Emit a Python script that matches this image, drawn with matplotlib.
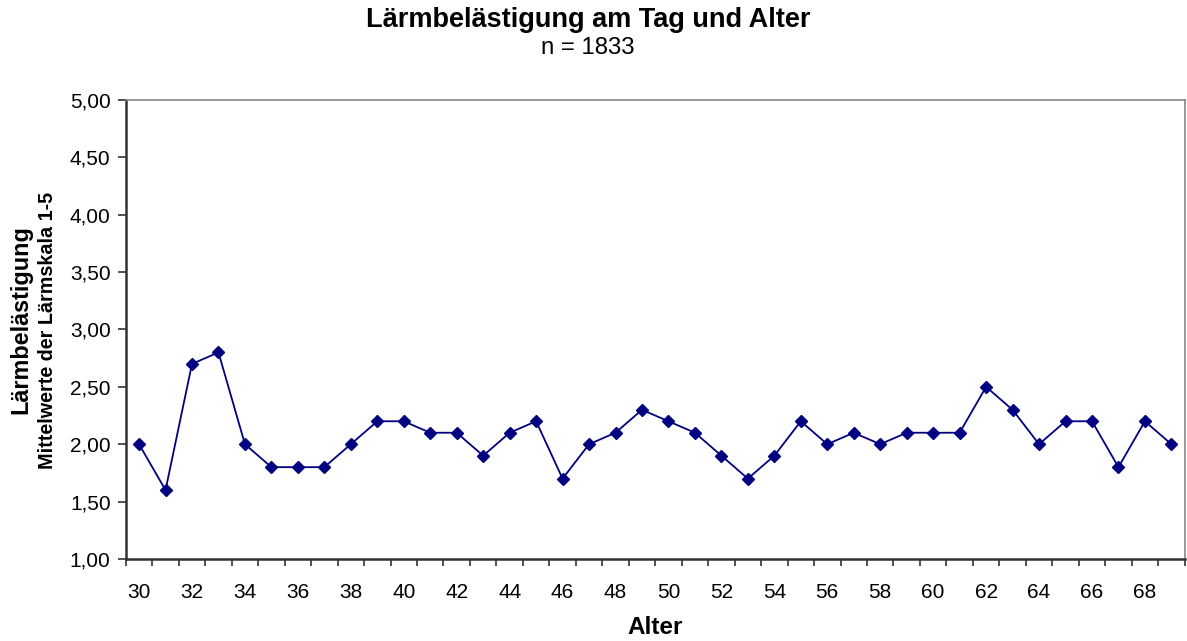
import matplotlib
matplotlib.use("Agg")
import matplotlib.pyplot as plt
import numpy as np

plt.rcParams['font.family'] = ['Liberation Sans', 'DejaVu Sans']

# Alter (Jahre) und Mittelwerte der Lärmskala 1-5
alter = list(range(30, 70))
mittelwerte = [2.0, 1.6, 2.7, 2.8, 2.0, 1.8, 1.8, 1.8, 2.0, 2.2,
               2.2, 2.1, 2.1, 1.9, 2.1, 2.2, 1.7, 2.0, 2.1, 2.3,
               2.2, 2.1, 1.9, 1.7, 1.9, 2.2, 2.0, 2.1, 2.0, 2.1,
               2.1, 2.1, 2.5, 2.3, 2.0, 2.2, 2.2, 1.8, 2.2, 2.0]
y_ticks = [1.0, 1.5, 2.0, 2.5, 3.0, 3.5, 4.0, 4.5, 5.0]

fig = plt.figure(figsize=(11.87, 6.41), dpi=100)
ax = fig.add_axes([0.106, 0.128, 0.892, 0.716])

x = np.arange(len(alter))
ax.plot(x, mittelwerte, color='#000080', lw=1.3, marker='D', ms=6.5,
        markerfacecolor='#000080', markeredgecolor='#000080')

ax.set_xlim(-0.5, len(alter) - 0.5)
ax.set_ylim(1.0, 5.0)
ax.set_yticks(y_ticks)
ax.set_yticklabels([f"{v:.2f}".replace('.', ',') for v in y_ticks], fontsize=15)

# Excel-artige Kategorienachse: Striche zwischen Kategorien, Beschriftung jede 2.
ax.set_xticks(x[::2])
ax.set_xticklabels([str(a) for a in alter[::2]], fontsize=15)
ax.tick_params(axis='x', which='major', length=0, pad=17)
ax.set_xticks(np.arange(-0.5, len(alter), 1.0), minor=True)
ax.tick_params(axis='x', which='minor', length=5, width=1.2, color='#333333', direction='out')
ax.tick_params(axis='y', length=6, width=1.2, color='#333333', direction='out', pad=5)

for side in ['left', 'bottom']:
    ax.spines[side].set_color('#333333')
    ax.spines[side].set_linewidth(1.8)
for side in ['top', 'right']:
    ax.spines[side].set_color('#888888')
    ax.spines[side].set_linewidth(1.2)

# Achsentitel und Überschrift (Positionen in Pixeln der 1187x641-Grafik)
fig.text(655 / 1187, (641 - 627) / 641, "Alter", ha='center', va='center',
         fontsize=17.5, fontweight='bold')

fig.text(0.4955, (641 - 20) / 641, "Lärmbelästigung am Tag und Alter", ha='center',
         va='center', fontsize=19.5, fontweight='bold')
fig.text(0.4955, (641 - 48) / 641, "n = 1833", ha='center', va='center', fontsize=17.3)

fig.text(21 / 1187, (641 - 320) / 641, "Lärmbelästigung", rotation=90, ha='center',
         va='center', fontsize=16.8, fontweight='bold')
fig.text(48 / 1187, (641 - 330) / 641, "Mittelwerte der Lärmskala 1-5", rotation=90,
         ha='center', va='center', fontsize=14.2, fontweight='bold')

fig.savefig("out.png", dpi=100)
